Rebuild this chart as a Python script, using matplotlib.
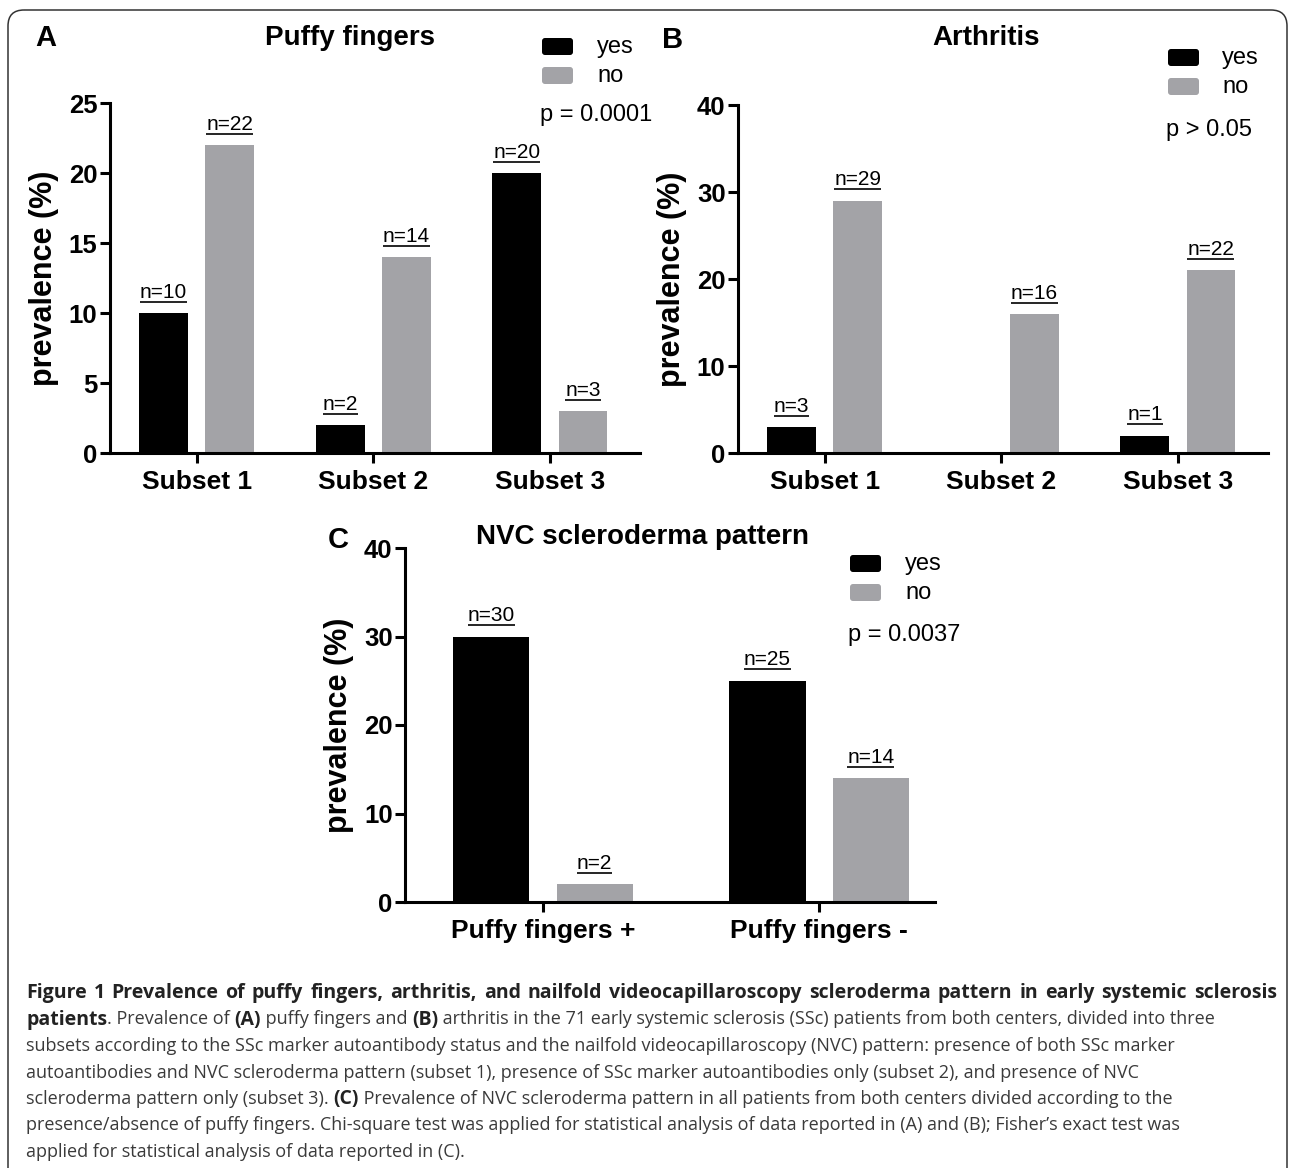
import matplotlib
matplotlib.use('Agg')
import matplotlib.pyplot as plt
import numpy as np
from matplotlib.patches import FancyBboxPatch

plt.rcParams['font.family'] = ['Liberation Sans', 'DejaVu Sans']

W, H = 1290, 1168
GRAY = '#a3a3a7'

# --- data ---
subsets = ['Subset 1', 'Subset 2', 'Subset 3']
puffy_yes = [10, 2, 20]
puffy_no = [22, 14, 3]
puffy_yes_lab = ['n=10', 'n=2', 'n=20']
puffy_no_lab = ['n=22', 'n=14', 'n=3']

arth_yes = [3, 0, 2]
arth_no = [29, 16, 21]
arth_yes_lab = ['n=3', None, 'n=1']
arth_no_lab = ['n=29', 'n=16', 'n=22']

nvc_groups = ['Puffy fingers +', 'Puffy fingers -']
nvc_yes = [30, 25]
nvc_no = [2, 14]
nvc_yes_lab = ['n=30', 'n=25']
nvc_no_lab = ['n=2', 'n=14']

fig = plt.figure(figsize=(W / 100, H / 100), dpi=100)


def px_axes(left, top, right, bottom):
    return fig.add_axes([left / W, 1 - bottom / H, (right - left) / W, (bottom - top) / H])


labels_all = []


def panel(ax, cats, yes, no, ylab, nlab, ymax, ystep, xlim):
    x = np.arange(len(cats))
    off, bw = 0.187, 0.276
    ax.bar(x - off, yes, bw, color='black')
    ax.bar(x + off, no, bw, color=GRAY)
    for xs, vals, labs in [(x - off, yes, ylab), (x + off, no, nlab)]:
        for xc, v, lab in zip(xs, vals, labs):
            if lab is None:
                continue
            t = ax.annotate(lab, (xc, v), xytext=(0, 11), textcoords='offset points',
                            ha='center', va='baseline', fontsize=15)
            labels_all.append(t)
    ax.set_xlim(*xlim)
    ax.set_ylim(0, ymax)
    ax.set_yticks(np.arange(0, ymax + 1, ystep))
    ax.set_xticks(x)
    ax.set_xticklabels(cats, fontsize=19, fontweight='bold')
    for lb in ax.get_yticklabels():
        lb.set_fontsize(18.5)
        lb.set_fontweight('bold')
    for s in ['top', 'right']:
        ax.spines[s].set_visible(False)
    for s in ['left', 'bottom']:
        ax.spines[s].set_linewidth(2.2)
    ax.tick_params(axis='both', length=7, width=2.2)
    ax.tick_params(axis='y', pad=2)
    ax.tick_params(axis='x', pad=5)
    ax.text(-0.125, 0.5, 'prevalence (%)', transform=ax.transAxes, rotation=90,
            ha='center', va='center', fontsize=22, fontweight='bold')


axA = px_axes(110, 103, 640, 453)
panel(axA, subsets, puffy_yes, puffy_no, puffy_yes_lab, puffy_no_lab, 25, 5, (-0.49, 2.51))
axB = px_axes(738, 105, 1268, 453)
panel(axB, subsets, arth_yes, arth_no, arth_yes_lab, arth_no_lab, 40, 10, (-0.49, 2.51))
axC = px_axes(405, 548, 935, 902)
panel(axC, nvc_groups, nvc_yes, nvc_no, nvc_yes_lab, nvc_no_lab, 40, 10, (-0.5, 1.42))

# overlay in pixel coordinates
ov = fig.add_axes([0, 0, 1, 1])
ov.set_xlim(0, W)
ov.set_ylim(H, 0)
ov.axis('off')
ov.patch.set_alpha(0)

ov.add_patch(FancyBboxPatch((8, 10), 1279, 1250, boxstyle='round,pad=0,rounding_size=16',
                            facecolor='none', edgecolor='#333333', lw=1.1))

for letter, lx, ly in [('A', 46, 38), ('B', 673, 40), ('C', 338, 540)]:
    ov.text(lx, ly, letter, ha='center', va='center', fontsize=21, fontweight='bold')
for title, tx, ty in [('Puffy fingers', 350, 38), ('Arthritis', 986, 38),
                      ('NVC scleroderma pattern', 642, 537)]:
    ov.text(tx, ty, title, ha='center', va='center', fontsize=20, fontweight='bold')

for sx, sy, tx, pval, py in [(542, 38, 597, 'p = 0.0001', 115),
                              (1168, 49, 1222, 'p > 0.05', 130),
                              (850, 555, 905, 'p = 0.0037', 635)]:
    for k, (col, name) in enumerate([('black', 'yes'), (GRAY, 'no')]):
        y0 = sy + k * 29
        ov.add_patch(FancyBboxPatch((sx, y0), 31, 17, boxstyle='round,pad=0,rounding_size=3',
                                    facecolor=col, edgecolor='none'))
        ov.text(tx, y0 + 9, name, ha='left', va='center', fontsize=17)
    ov.text(sx - 2, py, pval, ha='left', va='center', fontsize=17)

fig.canvas.draw()
renderer = fig.canvas.get_renderer()

# underline the n= labels
for t in labels_all:
    bb = t.get_window_extent(renderer)
    x0, x1 = bb.x0, bb.x1
    ybase = t.axes.transData.transform(t.xy)[1] + 11 * 100 / 72
    yline = H - (ybase - 4)
    ov.plot([x0, x1], [yline, yline], color='black', lw=1.2, solid_capstyle='butt')

# caption
cap_lines = [
    [('Figure 1 Prevalence of puffy fingers, arthritis, and nailfold videocapillaroscopy scleroderma pattern in early systemic sclerosis', True)],
    [('patients', True), ('. Prevalence of ', False), ('(A)', True), (' puffy fingers and ', False),
     ('(B)', True), (' arthritis in the 71 early systemic sclerosis (SSc) patients from both centers, divided into three', False)],
    [('subsets according to the SSc marker autoantibody status and the nailfold videocapillaroscopy (NVC) pattern: presence of both SSc marker', False)],
    [('autoantibodies and NVC scleroderma pattern (subset 1), presence of SSc marker autoantibodies only (subset 2), and presence of NVC', False)],
    [('scleroderma pattern only (subset 3). ', False), ('(C)', True),
     (' Prevalence of NVC scleroderma pattern in all patients from both centers divided according to the', False)],
    [('presence/absence of puffy fingers. Chi-square test was applied for statistical analysis of data reported in (A) and (B); Fisher\u2019s exact test was', False)],
    [('applied for statistical analysis of data reported in (C).', False)],
]
cap_font = ['Open Sans', 'DejaVu Sans']
reg_size = 13
bold_size = 14


def seg_width(s, bold):
    w = 'bold' if bold else 'normal'
    sz = bold_size if bold else reg_size
    a = ov.text(0, 0, s + 'x', fontsize=sz, family=cap_font, fontweight=w)
    b = ov.text(0, 0, 'x', fontsize=sz, family=cap_font, fontweight=w)
    wd = a.get_window_extent(renderer).width - b.get_window_extent(renderer).width
    a.remove()
    b.remove()
    return wd


def put(x, y, s, bold):
    ov.text(x, y, s, ha='left', va='center', family=cap_font,
            fontsize=bold_size if bold else reg_size,
            fontweight='bold' if bold else 'normal', color='#222222' if bold else '#3a3a3a')


for i, line in enumerate(cap_lines):
    y = 993 + i * 26.5
    x = 26
    if i == 0:
        # first line is justified to the full width
        words = line[0][0].split(' ')
        widths = [seg_width(w, True) for w in words]
        gap = (1277 - x - sum(widths)) / (len(words) - 1)
        for w, wd in zip(words, widths):
            put(x, y, w, True)
            x += wd + gap
        continue
    for s, bold in line:
        put(x, y, s, bold)
        x += seg_width(s, bold)

fig.savefig('out.png', dpi=100)
